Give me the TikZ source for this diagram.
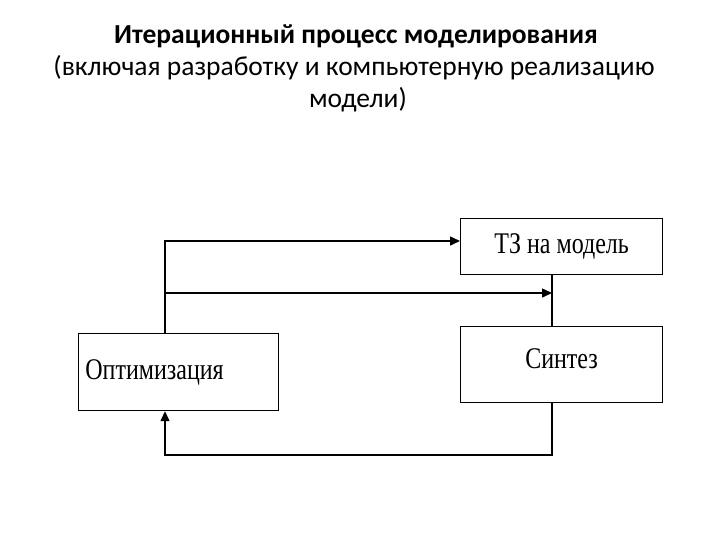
\documentclass[tikz,border=0pt]{standalone}
\usepackage{fontspec}
\setmainfont{Carlito}
\newfontfamily\boxfont{Liberation Serif}
\usetikzlibrary{arrows.meta}
\newcommand{\cond}[1]{\scalebox{0.8}[1]{#1}}
\begin{document}
\begin{tikzpicture}[x=1pt,y=-1pt,
  blk/.style={draw,line width=1.2pt,anchor=north west,inner sep=0pt,font=\boxfont\fontsize{30}{34}\selectfont},
  conn/.style={line width=1.4pt},
  arr/.style={conn,-{Triangle[length=10pt,width=9pt]}}]
\useasboundingbox (0,0) rectangle (720,540);
\node[font=\bfseries\fontsize{27.5}{30}\selectfont] (t1) at (356,36) {Итерационный процесс моделирования};
\node[font=\fontsize{27.5}{30}\selectfont] (t2) at (354,68) {(включая разработку и компьютерную реализацию};
\node[font=\fontsize{27.5}{30}\selectfont] (t3) at (358,100) {модели)};
\node[blk,minimum width=202pt,minimum height=56pt] (tz) at (460,218) {\cond{ТЗ на модель}};
\node[blk,minimum width=202pt,minimum height=76pt] (sy) at (460,326) {\raisebox{12pt}{\cond{Синтез}}};
\node[blk,minimum width=200pt,minimum height=77pt] (op) at (78,333) {\hspace{-48pt}\cond{Оптимизация}};
\coordinate (a1) at (165,241);
\coordinate (a2) at (165,293);
\coordinate (a3) at (552,293);
\coordinate (b1) at (552,455);
\coordinate (b2) at (165,455);
\draw[arr] (op.north west -| a1) -- (a1) -- (a1 -| tz.west);
\draw[arr] (a2) -- (a3);
\draw[conn] (tz.south -| a3) -- (sy.north -| a3);
\draw[arr] (sy.south -| b1) -- (b1) -- (b2) -- (op.south -| b2);
\end{tikzpicture}
\end{document}
